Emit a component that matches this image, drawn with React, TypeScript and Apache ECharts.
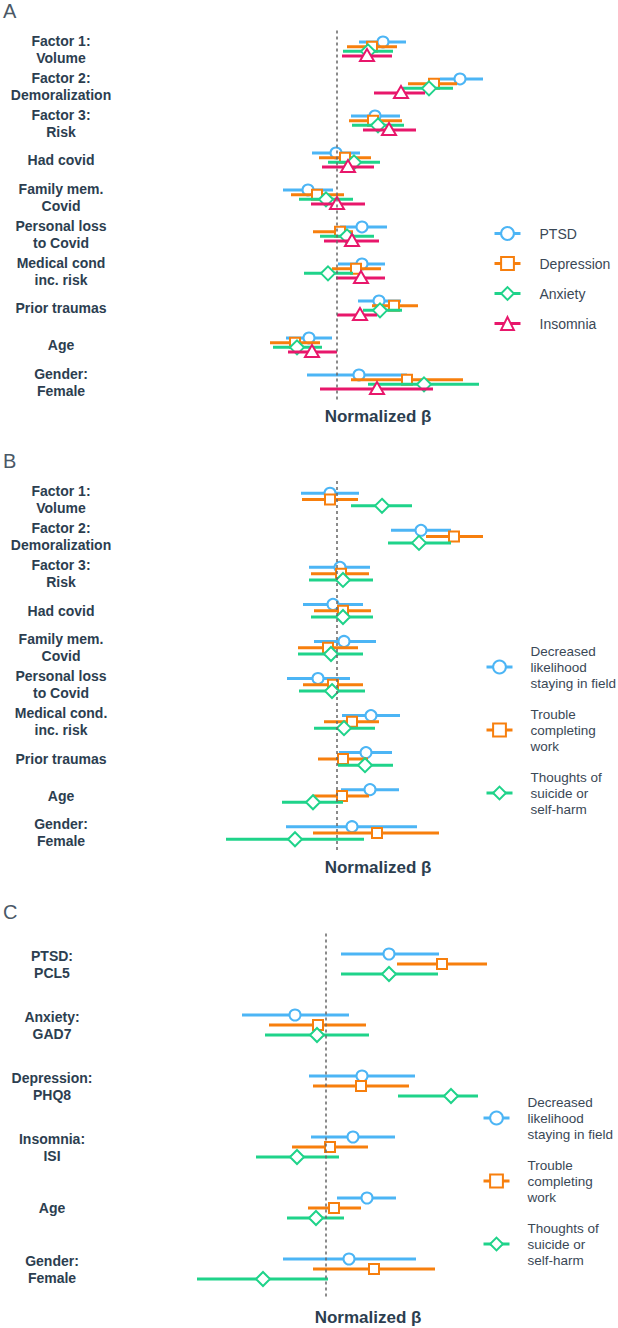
import React, { useEffect, useRef } from "react";
import * as echarts from "echarts";

const FONT = '"Liberation Sans", Arial, Helvetica, sans-serif';
const LABEL_COLOR = "#2c3e50";
const LEGEND_COLOR = "#3a4856";

const BLUE = "#4cb5f5";
const ORANGE = "#f77f0d";
const GREEN = "#1fd38a";
const PINK = "#e8176b";

// Panel A
const rowsA = [
  "Factor 1:\nVolume",
  "Factor 2:\nDemoralization",
  "Factor 3:\nRisk",
  "Had covid",
  "Family mem.\nCovid",
  "Personal loss\nto Covid",
  "Medical cond\ninc. risk",
  "Prior traumas",
  "Age",
  "Gender:\nFemale",
];
const namesA = ["PTSD", "Depression", "Anxiety", "Insomnia"];
// [estimate, lower, upper] per row
const aPTSD = [
  [0.46, 0.22, 0.69], [1.23, 1.03, 1.46], [0.38, 0.14, 0.63], [-0.01, -0.25, 0.23], [-0.29, -0.54, -0.04],
  [0.25, 0.03, 0.5], [0.25, 0.01, 0.48], [0.42, 0.21, 0.64], [-0.28, -0.51, -0.05], [0.22, -0.3, 0.7],
];
const aDep = [
  [0.35, 0.1, 0.6], [0.97, 0.71, 1.2], [0.36, 0.12, 0.65], [0.08, -0.18, 0.34], [-0.2, -0.46, 0.07],
  [0.03, -0.24, 0.16], [0.19, -0.05, 0.44], [0.57, 0.35, 0.81], [-0.42, -0.67, -0.17], [0.7, 0.14, 1.26],
];
const aAnx = [
  [0.31, 0.06, 0.56], [0.92, 0.66, 1.16], [0.41, 0.15, 0.67], [0.17, -0.09, 0.43], [-0.11, -0.38, 0.16],
  [0.1, -0.17, 0.37], [-0.09, -0.33, 0.16], [0.43, 0.26, 0.65], [-0.4, -0.64, -0.15], [0.87, 0.31, 1.42],
];
const aIns = [
  [0.3, 0.05, 0.55], [0.64, 0.37, 0.88], [0.52, 0.26, 0.79], [0.11, -0.15, 0.37], [0.0, -0.26, 0.28],
  [0.15, -0.13, 0.42], [0.24, -0.01, 0.48], [0.23, 0.0, 0.4], [-0.25, -0.49, 0.0], [0.4, -0.17, 0.96],
];

// Panel B
const rowsB = [
  "Factor 1:\nVolume",
  "Factor 2:\nDemoralization",
  "Factor 3:\nRisk",
  "Had covid",
  "Family mem.\nCovid",
  "Personal loss\nto Covid",
  "Medical cond.\ninc. risk",
  "Prior traumas",
  "Age",
  "Gender:\nFemale",
];
const namesBC = ["Decreased likelihood staying in field", "Trouble completing work", "Thoughts of suicide or self-harm"];
const legendTextBC = ["Decreased\nlikelihood\nstaying in field", "Trouble\ncompleting\nwork", "Thoughts of\nsuicide or\nself-harm"];
const bLeave = [
  [-0.07, -0.36, 0.22], [0.84, 0.54, 1.14], [0.03, -0.28, 0.33], [-0.04, -0.34, 0.26], [0.07, -0.23, 0.39],
  [-0.19, -0.5, 0.13], [0.34, 0.05, 0.63], [0.29, 0.02, 0.55], [0.33, 0.04, 0.62], [0.15, -0.51, 0.8],
];
const bWork = [
  [-0.07, -0.35, 0.21], [1.17, 0.89, 1.46], [0.04, -0.26, 0.32], [0.06, -0.23, 0.34], [-0.09, -0.39, 0.21],
  [-0.04, -0.34, 0.26], [0.15, -0.13, 0.42], [0.06, -0.19, 0.31], [0.05, -0.24, 0.32], [0.4, -0.24, 1.02],
];
const bSuicide = [
  [0.45, 0.14, 0.75], [0.82, 0.51, 1.14], [0.06, -0.28, 0.36], [0.06, -0.26, 0.36], [-0.06, -0.39, 0.26],
  [-0.05, -0.38, 0.28], [0.07, -0.23, 0.38], [0.28, 0.01, 0.56], [-0.24, -0.55, 0.06], [-0.42, -1.11, 0.27],
];

// Panel C
const rowsC = ["PTSD:\nPCL5", "Anxiety:\nGAD7", "Depression:\nPHQ8", "Insomnia:\nISI", "Age", "Gender:\nFemale"];
const cLeave = [
  [0.63, 0.15, 1.13], [-0.31, -0.84, 0.23], [0.36, -0.17, 0.89], [0.27, -0.15, 0.69], [0.41, 0.11, 0.7], [0.23, -0.43, 0.9],
];
const cWork = [
  [1.16, 0.71, 1.61], [-0.08, -0.57, 0.4], [0.35, -0.13, 0.83], [0.04, -0.34, 0.42], [0.08, -0.18, 0.35], [0.48, -0.13, 1.09],
];
const cSuicide = [
  [0.63, 0.15, 1.12], [-0.09, -0.61, 0.43], [1.25, 0.72, 1.52], [-0.29, -0.7, 0.13], [-0.1, -0.39, 0.18], [-0.63, -1.29, 0.02],
];

type Shape = "circle" | "rect" | "diamond" | "triangle";

function markerEl(shape: Shape, cx: number, cy: number, color: string) {
  const style = { fill: "#fff", stroke: color, lineWidth: 2 };
  if (shape === "circle") return { type: "circle", shape: { cx, cy, r: 5.5 }, style };
  if (shape === "rect") return { type: "rect", shape: { x: cx - 5, y: cy - 5, width: 10, height: 10 }, style };
  if (shape === "diamond")
    return { type: "polygon", shape: { points: [[cx, cy - 7], [cx + 7, cy], [cx, cy + 7], [cx - 7, cy]] }, style };
  return { type: "polygon", shape: { points: [[cx, cy - 7], [cx + 7, cy + 5], [cx - 7, cy + 5]] }, style };
}

function errSeries(
  id: string,
  values: number[][],
  color: string,
  shape: Shape,
  g: number,
  offset: number,
  zero: boolean
) {
  const s: any = {
    type: "custom",
    name: id,
    xAxisIndex: g,
    yAxisIndex: g,
    encode: { x: [1, 2, 3], y: 0 },
    data: values.map((v, i) => [i, v[0], v[1], v[2]]),
    renderItem: (_p: any, api: any) => {
      const idx = api.value(0);
      const c = api.coord([api.value(1), idx]);
      const l = api.coord([api.value(2), idx]);
      const h = api.coord([api.value(3), idx]);
      const y = c[1] + offset;
      return {
        type: "group",
        children: [
          { type: "line", shape: { x1: l[0], y1: y, x2: h[0], y2: y }, style: { stroke: color, lineWidth: 3 } },
          markerEl(shape, c[0], y, color),
        ],
      };
    },
  };
  if (zero) {
    s.markLine = {
      silent: true,
      symbol: "none",
      label: { show: false },
      lineStyle: { color: "#666", width: 1.5, type: [3, 3] },
      data: [{ xAxis: 0 }],
    };
  }
  return s;
}

function legendSeries(name: string, color: string, symbol: string, g: number) {
  return {
    type: "line",
    name,
    xAxisIndex: g,
    yAxisIndex: g,
    data: [],
    symbol,
    symbolSize: 12,
    itemStyle: { color, borderWidth: 2 },
    lineStyle: { color, width: 3 },
  };
}

export default function App() {
  const ref = useRef<HTMLDivElement>(null);
  useEffect(() => {
    document.body.style.margin = "0";
    const chart = echarts.init(ref.current!, null, { renderer: "svg" });

    const grids = [
      { left: 137, width: 400, top: 30.5, height: 370, labelX: 61, rows: rowsA },
      { left: 137, width: 400, top: 481, height: 370.5, labelX: 61, rows: rowsB },
      { left: 126, width: 400, top: 933.5, height: 366, labelX: 52, rows: rowsC },
    ];

    const series: any[] = [];
    const aSets = [aPTSD, aDep, aAnx, aIns];
    const aColors = [BLUE, ORANGE, GREEN, PINK];
    const aShapes: Shape[] = ["circle", "rect", "diamond", "triangle"];
    const aSymbols = ["emptyCircle", "emptyRect", "emptyDiamond", "emptyTriangle"];
    aSets.forEach((d, k) => series.push(errSeries("A" + k, d, aColors[k], aShapes[k], 0, (k - 1.5) * 4.7, k === 0)));
    const bcColors = [BLUE, ORANGE, GREEN];
    const bcShapes: Shape[] = ["circle", "rect", "diamond"];
    const bcSymbols = ["emptyCircle", "emptyRect", "emptyDiamond"];
    [bLeave, bWork, bSuicide].forEach((d, k) =>
      series.push(errSeries("B" + k, d, bcColors[k], bcShapes[k], 1, (k - 1) * 6.3, k === 0))
    );
    [cLeave, cWork, cSuicide].forEach((d, k) =>
      series.push(errSeries("C" + k, d, bcColors[k], bcShapes[k], 2, (k - 1) * 10, k === 0))
    );
    namesA.forEach((n, k) => series.push(legendSeries(n, aColors[k], aSymbols[k], 0)));
    namesBC.forEach((n, k) => series.push(legendSeries(n, bcColors[k], bcSymbols[k], 1)));

    const legendText = (n: string) => {
      const i = namesBC.indexOf(n);
      return i >= 0 ? legendTextBC[i] : n;
    };
    const legendBase = {
      orient: "vertical",
      itemWidth: 26,
      itemHeight: 16,
      selectedMode: false,
      formatter: legendText,
      lineStyle: { width: 3 },
      itemStyle: { borderWidth: 2 },
    };

    const titleText = (t: string, x: number, y: number) => ({
      type: "text",
      left: x,
      top: y,
      style: { text: t, fontSize: 20, fontFamily: FONT, fill: "#4a5866" },
    });
    const betaText = (x: number, y: number) => ({
      type: "text",
      x,
      y,
      style: {
        text: "Normalized β",
        fontSize: 17,
        fontWeight: "bold",
        fontFamily: FONT,
        fill: LABEL_COLOR,
        align: "center",
        verticalAlign: "middle",
      },
    });

    const bcText = { fontSize: 13.5, lineHeight: 16, color: LEGEND_COLOR, fontFamily: FONT, padding: [0, 0, 0, 13] };

    chart.setOption({
      animation: false,
      backgroundColor: "#ffffff",
      grid: grids.map((g) => ({ left: g.left, width: g.width, top: g.top, height: g.height })),
      xAxis: grids.map((_g, i) => ({
        gridIndex: i,
        type: "value",
        min: -2,
        max: 2,
        show: false,
        splitLine: { show: false },
      })),
      yAxis: grids.map((g, i) => ({
        gridIndex: i,
        type: "category",
        data: g.rows,
        inverse: true,
        axisLine: { show: false },
        axisTick: { show: false },
        splitLine: { show: false },
        axisLabel: {
          interval: 0,
          align: "center",
          margin: g.left - g.labelX,
          fontSize: 14,
          fontWeight: "bold",
          lineHeight: 17,
          color: LABEL_COLOR,
          fontFamily: FONT,
        },
      })),
      legend: [
        {
          ...legendBase,
          data: namesA,
          left: 488,
          top: 220,
          itemGap: 13,
          textStyle: { fontSize: 14, lineHeight: 17, color: LEGEND_COLOR, fontFamily: FONT, padding: [0, 0, 0, 14] },
        },
        {
          ...legendBase,
          data: namesBC,
          left: 480,
          top: 638,
          itemGap: 15,
          textStyle: bcText,
        },
        {
          ...legendBase,
          data: namesBC,
          left: 477,
          top: 1089,
          itemGap: 15,
          textStyle: bcText,
        },
      ],
      graphic: [
        titleText("A", 3, 1),
        titleText("B", 3, 451),
        titleText("C", 3, 902),
        betaText(378, 416),
        betaText(378, 867),
        betaText(368, 1317),
      ],
      series,
    });
    return () => chart.dispose();
  }, []);
  return <div ref={ref} style={{ width: 618, height: 1328 }} />;
}
